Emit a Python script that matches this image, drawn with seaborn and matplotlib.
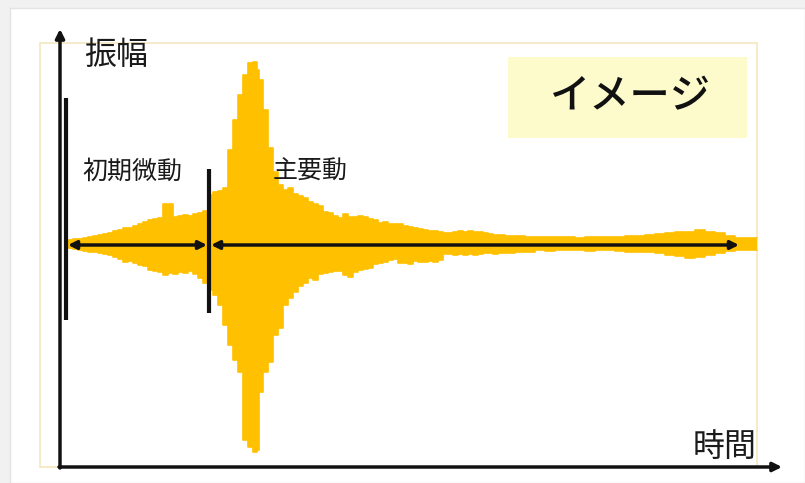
import matplotlib
matplotlib.use("Agg")
import matplotlib.pyplot as plt
from matplotlib.patches import Rectangle
import pandas as pd
import seaborn as sns

# Waveform envelope: time (samples) and upper / lower amplitude
time = [0, 5, 10, 15, 20, 25, 30, 35, 40, 45,
        50, 55, 60, 65, 70, 75, 80, 85, 90, 95,
        100, 105, 110, 115, 120, 125, 130, 135, 140, 145,
        150, 155, 160, 165, 170, 175, 180, 185, 190, 193,
        195, 200, 205, 210, 215, 220, 225, 230, 235, 240,
        245, 250, 255, 260, 265, 270, 275, 280, 285, 290,
        295, 300, 305, 310, 315, 320, 325, 330, 335, 340,
        345, 350, 355, 360, 365, 370, 375, 380, 385, 390,
        395, 400, 405, 410, 415, 420, 425, 430, 435, 445,
        455, 465, 475, 485, 495, 505, 515, 525, 535, 545,
        555, 565, 575, 585, 595, 605, 615, 625, 635, 645,
        655, 665, 675, 685, 692]
upper = [3, 5, 6, 6, 7, 8, 9, 10, 11, 12,
         14, 15, 17, 17, 19, 21, 23, 25, 26, 27,
         41, 41, 28, 29, 30, 29, 31, 32, 34, 50,
         53, 54, 57, 95, 125, 150, 170, 182, 183, 175,
         165, 135, 97, 73, 60, 55, 57, 51, 49, 47,
         43, 41, 39, 33, 32, 29, 27, 31, 28, 28,
         29, 28, 26, 25, 22, 23, 21, 21, 21, 19,
         18, 17, 16, 15, 14, 14, 13, 12, 12, 13,
         14, 13, 14, 13, 13, 12, 11, 10, 10, 9,
         9, 8, 8, 8, 8, 8, 7, 8, 8, 8,
         8, 9, 9, 10, 11, 12, 13, 13, 15, 13,
         12, 9, 7, 7, 7]
lower = [-2, -3, -4, -5, -6, -7, -7, -8, -9, -10,
         -12, -14, -17, -16, -18, -20, -21, -25, -26, -27,
         -30, -28, -29, -27, -28, -26, -29, -33, -38, -45,
         -50, -60, -80, -100, -115, -127, -195, -202, -207, -205,
         -147, -127, -117, -90, -83, -60, -53, -47, -41, -38,
         -33, -35, -29, -28, -27, -26, -26, -30, -32, -27,
         -25, -24, -23, -19, -18, -17, -15, -14, -18, -18,
         -19, -16, -17, -17, -16, -17, -15, -9, -9, -10,
         -9, -10, -9, -10, -9, -8, -8, -9, -8, -8,
         -7, -7, -5, -6, -5, -5, -5, -6, -5, -5,
         -6, -7, -7, -7, -8, -10, -11, -13, -12, -10,
         -8, -6, -5, -5, -5]

wave = pd.DataFrame({"時間": time, "上": upper, "下": lower})

GOLD = "#FFC000"
INK = "#111111"
TEXT = "#1a1a1a"

sns.set_theme(style="white")
plt.rcParams["font.family"] = ["Noto Sans CJK JP", "DejaVu Sans"]

W, H = 805, 483
fig = plt.figure(figsize=(W / 100, H / 100), dpi=100, facecolor="#f1f1f1")

# white slide area
fig.patches.append(Rectangle((10 / W, 0), 1 - 10 / W, (H - 8) / H,
                             transform=fig.transFigure, facecolor="white",
                             edgecolor="#e4e4e4", lw=1, zorder=-5))

ax = fig.add_axes([0, 0, 1, 1])
ax.set_facecolor("none")
X0, Y0 = 65, 245  # pixel position of time 0 / amplitude 0


def px(x, y):
    return (x - X0, Y0 - y)


# pale frame of the diagram
ax.add_patch(Rectangle(px(40, 467), 717, 424, facecolor="none",
                       edgecolor="#f3e6bf", lw=1.2, zorder=1))

# waveform
ax.fill_between(wave["時間"], wave["下"], wave["上"], step="mid",
                color=GOLD, linewidth=0, zorder=2)
sns.lineplot(data=wave, x="時間", y="上", ax=ax, color=GOLD, lw=1.2,
             drawstyle="steps-mid", zorder=2)
sns.lineplot(data=wave, x="時間", y="下", ax=ax, color=GOLD, lw=1.2,
             drawstyle="steps-mid", zorder=2)
ax.set_xlim(-X0, W - X0)
ax.set_ylim(Y0 - H, Y0)
ax.set_axis_off()

# axes with arrow heads
arrow_axis = dict(arrowstyle="-|>", color=INK, lw=2.5, mutation_scale=13,
                  shrinkA=0, shrinkB=0)
ax.annotate("", xy=px(60, 29), xytext=px(60, 468), arrowprops=arrow_axis,
            zorder=5)
ax.annotate("", xy=px(782, 467), xytext=px(59, 467), arrowprops=arrow_axis,
            zorder=5)

# phase markers
ax.plot(*zip(px(66, 98), px(66, 320)), color=INK, lw=3, zorder=4,
        solid_capstyle="butt")
ax.plot(*zip(px(209, 169), px(209, 313)), color=INK, lw=3, zorder=4,
        solid_capstyle="butt")

span = dict(arrowstyle="<|-|>", color=INK, lw=2.5, mutation_scale=12,
            shrinkA=0, shrinkB=0)
ax.annotate("", xy=px(207, 245), xytext=px(68, 245), arrowprops=span,
            zorder=4)
ax.annotate("", xy=px(739, 245), xytext=px(211, 245), arrowprops=span,
            zorder=4)

# labels
ax.text(*px(84, 55), "振幅", fontsize=23, color=TEXT, ha="left",
        va="center", zorder=6)
ax.text(*px(757, 447), "時間", fontsize=23, color=TEXT, ha="right",
        va="center", zorder=6)
ax.text(*px(132, 172), "初期微動", fontsize=18, color=TEXT,
        ha="center", va="center", zorder=6)
ax.text(*px(310, 172), "主要動", fontsize=18, color=TEXT,
        ha="center", va="center", zorder=6)

# caption box
ax.add_patch(Rectangle(px(508, 138), 239, 81, facecolor="#fdfbcc",
                       edgecolor="none", zorder=3))
ax.text(*px(630, 97), "イメージ", fontsize=29, color="#111111",
        ha="center", va="center", fontweight="medium", zorder=6)

fig.savefig("out.png", dpi=100, facecolor=fig.get_facecolor())
